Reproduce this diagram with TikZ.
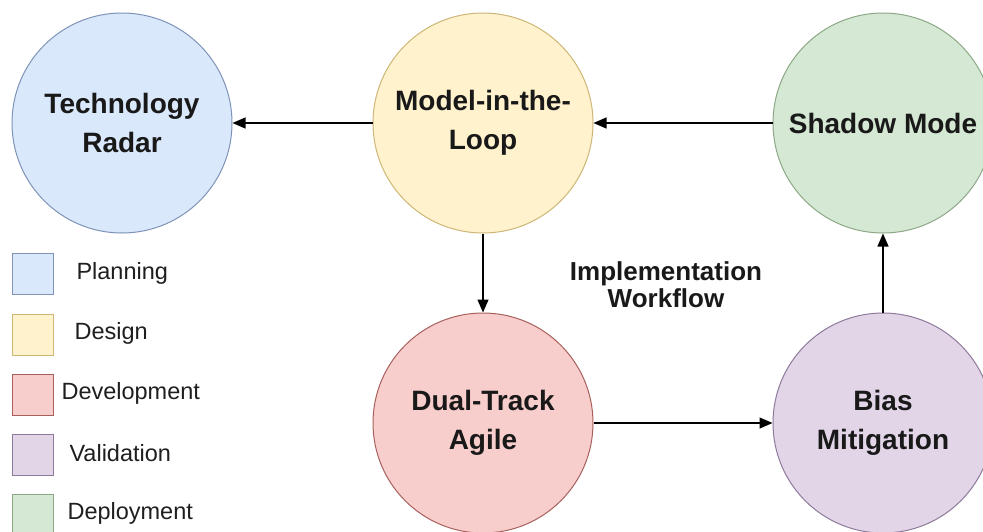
\documentclass[tikz,border=0pt]{standalone}
\usepackage{fontspec}
\setmainfont{Liberation Sans}
\usetikzlibrary{arrows.meta}
\definecolor{bluef}{HTML}{DAE8FC}\definecolor{blued}{HTML}{7F93B8}
\definecolor{yelf}{HTML}{FFF2CC}\definecolor{yeld}{HTML}{CDB676}
\definecolor{redf}{HTML}{F8CECC}\definecolor{redd}{HTML}{A8605C}
\definecolor{purf}{HTML}{E1D5E7}\definecolor{purd}{HTML}{8E7A9C}
\definecolor{grnf}{HTML}{D5E8D4}\definecolor{grnd}{HTML}{8CA886}
\tikzset{
  phase/.style={circle, draw=#1d, fill=#1f, line width=1pt, minimum size=220pt, inner sep=0pt,
    align=center, font=\fontsize{28}{39}\selectfont\bfseries, text=black!90},
  legbox/.style={draw=#1d, fill=#1f, line width=1pt, minimum width=41pt, minimum height=41pt, inner sep=0pt, anchor=north west},
  legtext/.style={anchor=west, font=\fontsize{23.5}{26}\selectfont, text=black!88},
  flow/.style={line width=1.3pt, -{Triangle[length=13pt,width=11pt]}}
}
\begin{document}
\begin{tikzpicture}[x=1pt,y=-1pt]
\useasboundingbox (0,0) rectangle (983,531);
\fill[white] (0,0) rectangle (983,531);
\node[phase=blue] (radar) at (122,123) {Technology\\Radar};
\node[phase=yel] (mil) at (483,123) {Model-in-the-\\Loop};
\node[phase=grn] (shadow) at (883,123) {Shadow Mode};
\node[phase=red] (dual) at (483,423) {Dual-Track\\Agile};
\node[phase=pur] (bias) at (883,423) {Bias\\Mitigation};
\node[align=center, font=\fontsize{26}{27}\selectfont\bfseries, text=black!90] (title) at (666,285) {Implementation\\Workflow};
\draw[flow] (mil) -- (radar);
\draw[flow] (shadow) -- (mil);
\draw[flow] (mil) -- (dual);
\draw[flow] (dual) -- (bias);
\draw[flow] (bias) -- (shadow);
\node[legbox=blue] (lb1) at (12,253) {};
\node[legbox=yel] (lb2) at (12,314) {};
\node[legbox=red] (lb3) at (12,374) {};
\node[legbox=pur] (lb4) at (12,434) {};
\node[legbox=grn] (lb5) at (12,494) {};
\node[legtext] (lt1) at (73,273) {Planning};
\node[legtext] (lt2) at (71,333) {Design};
\node[legtext] (lt3) at (58,393) {Development};
\node[legtext] (lt4) at (66,453) {Validation};
\node[legtext] (lt5) at (64,513) {Deployment};
\end{tikzpicture}
\end{document}
